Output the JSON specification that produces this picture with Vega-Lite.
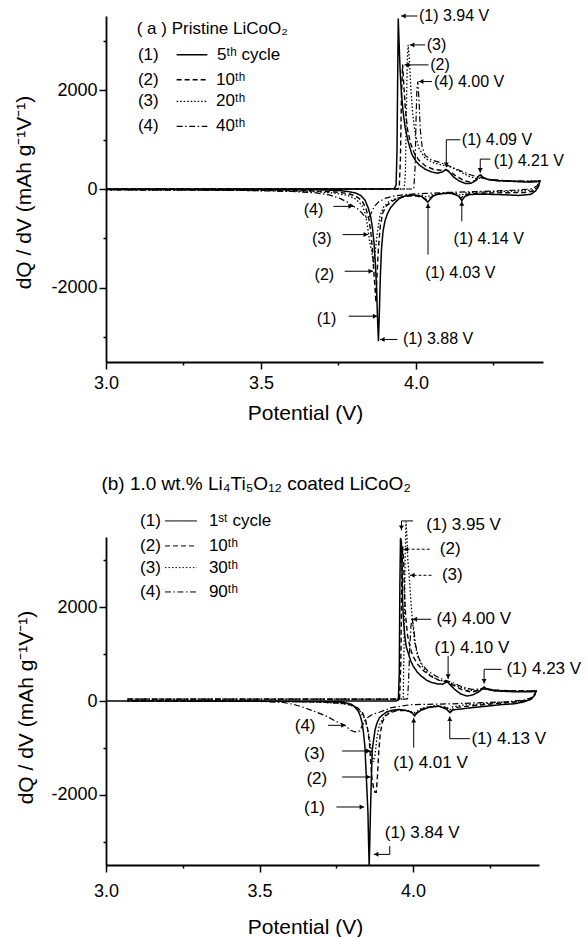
{
"$schema": "https://vega.github.io/schema/vega-lite/v6.json",
"background": "white",
"padding": {"left": 13, "top": 8, "right": 5, "bottom": 5},
"bounds": "flush",
"spacing": 175,
"config": {
  "view": {"stroke": null},
  "font": "Liberation Sans",
  "axis": {"domainColor": "black", "domainWidth": 1.8, "tickColor": "black", "tickWidth": 1.5, "labelColor": "black", "titleColor": "black", "labelFont": "Liberation Sans", "titleFont": "Liberation Sans", "labelFontSize": 18, "titleFontSize": 21, "titleFontWeight": "normal", "grid": false, "labelOverlap": false, "labelFlush": false}
},
"datasets": {
"a_curves": [
{"c":"1","i":1,"x":3.0,"y":0},{"c":"1","i":2,"x":3.5,"y":0},{"c":"1","i":3,"x":3.9,"y":0},{"c":"1","i":4,"x":3.93,"y":5},{"c":"1","i":5,"x":3.936,"y":80},{"c":"1","i":6,"x":3.939,"y":800},{"c":"1","i":7,"x":3.941,"y":2200},{"c":"1","i":8,"x":3.943,"y":3450},{"c":"1","i":9,"x":3.946,"y":2900},{"c":"1","i":10,"x":3.949,"y":2400},{"c":"1","i":11,"x":3.953,"y":1950},{"c":"1","i":12,"x":3.958,"y":1600},{"c":"1","i":13,"x":3.965,"y":1250},{"c":"1","i":14,"x":3.975,"y":960},{"c":"1","i":15,"x":3.987,"y":700},{"c":"1","i":16,"x":4.0,"y":560},{"c":"1","i":17,"x":4.012,"y":480},{"c":"1","i":18,"x":4.03,"y":400},{"c":"1","i":19,"x":4.05,"y":345},{"c":"1","i":20,"x":4.07,"y":320},{"c":"1","i":21,"x":4.085,"y":345},{"c":"1","i":22,"x":4.097,"y":395},{"c":"1","i":23,"x":4.108,"y":340},{"c":"1","i":24,"x":4.122,"y":240},{"c":"1","i":25,"x":4.14,"y":160},{"c":"1","i":26,"x":4.16,"y":110},{"c":"1","i":27,"x":4.178,"y":115},{"c":"1","i":28,"x":4.192,"y":170},{"c":"1","i":29,"x":4.202,"y":260},{"c":"1","i":30,"x":4.208,"y":290},{"c":"1","i":31,"x":4.216,"y":240},{"c":"1","i":32,"x":4.23,"y":195},{"c":"1","i":33,"x":4.26,"y":170},{"c":"1","i":34,"x":4.31,"y":155},{"c":"1","i":35,"x":4.36,"y":140},{"c":"1","i":36,"x":4.385,"y":145},{"c":"1","i":37,"x":4.4,"y":160},
{"c":"1","i":38,"x":4.396,"y":60},{"c":"1","i":39,"x":4.386,"y":-40},{"c":"1","i":40,"x":4.37,"y":-110},{"c":"1","i":41,"x":4.33,"y":-130},{"c":"1","i":42,"x":4.28,"y":-115},{"c":"1","i":43,"x":4.22,"y":-105},{"c":"1","i":44,"x":4.175,"y":-110},{"c":"1","i":45,"x":4.158,"y":-150},{"c":"1","i":46,"x":4.148,"y":-235},{"c":"1","i":47,"x":4.14,"y":-160},{"c":"1","i":48,"x":4.125,"y":-95},{"c":"1","i":49,"x":4.1,"y":-85},{"c":"1","i":50,"x":4.075,"y":-100},{"c":"1","i":51,"x":4.055,"y":-140},{"c":"1","i":52,"x":4.046,"y":-210},{"c":"1","i":53,"x":4.038,"y":-265},{"c":"1","i":54,"x":4.03,"y":-215},{"c":"1","i":55,"x":4.018,"y":-150},{"c":"1","i":56,"x":4.0,"y":-125},{"c":"1","i":57,"x":3.98,"y":-120},{"c":"1","i":58,"x":3.96,"y":-150},{"c":"1","i":59,"x":3.945,"y":-200},{"c":"1","i":60,"x":3.93,"y":-290},{"c":"1","i":61,"x":3.918,"y":-380},{"c":"1","i":62,"x":3.908,"y":-500},{"c":"1","i":63,"x":3.9,"y":-650},{"c":"1","i":64,"x":3.894,"y":-850},{"c":"1","i":65,"x":3.889,"y":-1200},{"c":"1","i":66,"x":3.885,"y":-1800},{"c":"1","i":67,"x":3.882,"y":-2500},{"c":"1","i":68,"x":3.879,"y":-3078},{"c":"1","i":69,"x":3.876,"y":-2600},{"c":"1","i":70,"x":3.873,"y":-2000},{"c":"1","i":71,"x":3.869,"y":-1500},{"c":"1","i":72,"x":3.865,"y":-1100},{"c":"1","i":73,"x":3.86,"y":-800},{"c":"1","i":74,"x":3.854,"y":-560},{"c":"1","i":75,"x":3.846,"y":-380},{"c":"1","i":76,"x":3.836,"y":-230},{"c":"1","i":77,"x":3.822,"y":-130},{"c":"1","i":78,"x":3.805,"y":-80},{"c":"1","i":79,"x":3.78,"y":-50},{"c":"1","i":80,"x":3.75,"y":-30},{"c":"1","i":81,"x":3.7,"y":-18},{"c":"1","i":82,"x":3.5,"y":-10},{"c":"1","i":83,"x":3.0,"y":-5},
{"c":"2","i":1,"x":3.0,"y":0},{"c":"2","i":2,"x":3.5,"y":0},{"c":"2","i":3,"x":3.94,"y":0},{"c":"2","i":4,"x":3.946,"y":20},{"c":"2","i":5,"x":3.95,"y":600},{"c":"2","i":6,"x":3.953,"y":1800},{"c":"2","i":7,"x":3.957,"y":2520},{"c":"2","i":8,"x":3.961,"y":2100},{"c":"2","i":9,"x":3.966,"y":1600},{"c":"2","i":10,"x":3.973,"y":1200},{"c":"2","i":11,"x":3.983,"y":920},{"c":"2","i":12,"x":3.995,"y":720},{"c":"2","i":13,"x":4.01,"y":580},{"c":"2","i":14,"x":4.03,"y":470},{"c":"2","i":15,"x":4.055,"y":400},{"c":"2","i":16,"x":4.08,"y":380},{"c":"2","i":17,"x":4.097,"y":390},{"c":"2","i":18,"x":4.11,"y":350},{"c":"2","i":19,"x":4.13,"y":260},{"c":"2","i":20,"x":4.155,"y":170},{"c":"2","i":21,"x":4.175,"y":140},{"c":"2","i":22,"x":4.195,"y":180},{"c":"2","i":23,"x":4.21,"y":240},{"c":"2","i":24,"x":4.225,"y":200},{"c":"2","i":25,"x":4.26,"y":170},{"c":"2","i":26,"x":4.32,"y":155},{"c":"2","i":27,"x":4.38,"y":150},{"c":"2","i":28,"x":4.4,"y":160},
{"c":"2","i":29,"x":4.394,"y":40},{"c":"2","i":30,"x":4.38,"y":-40},{"c":"2","i":31,"x":4.35,"y":-70},{"c":"2","i":32,"x":4.3,"y":-75},{"c":"2","i":33,"x":4.24,"y":-80},{"c":"2","i":34,"x":4.18,"y":-90},{"c":"2","i":35,"x":4.155,"y":-120},{"c":"2","i":36,"x":4.145,"y":-190},{"c":"2","i":37,"x":4.135,"y":-130},{"c":"2","i":38,"x":4.11,"y":-85},{"c":"2","i":39,"x":4.07,"y":-100},{"c":"2","i":40,"x":4.045,"y":-180},{"c":"2","i":41,"x":4.035,"y":-220},{"c":"2","i":42,"x":4.022,"y":-170},{"c":"2","i":43,"x":4.0,"y":-140},{"c":"2","i":44,"x":3.97,"y":-145},{"c":"2","i":45,"x":3.945,"y":-180},{"c":"2","i":46,"x":3.925,"y":-240},{"c":"2","i":47,"x":3.905,"y":-340},{"c":"2","i":48,"x":3.893,"y":-480},{"c":"2","i":49,"x":3.885,"y":-750},{"c":"2","i":50,"x":3.879,"y":-1200},{"c":"2","i":51,"x":3.874,"y":-1800},{"c":"2","i":52,"x":3.871,"y":-2300},{"c":"2","i":53,"x":3.868,"y":-2000},{"c":"2","i":54,"x":3.864,"y":-1660},{"c":"2","i":55,"x":3.86,"y":-1250},{"c":"2","i":56,"x":3.855,"y":-900},{"c":"2","i":57,"x":3.848,"y":-600},{"c":"2","i":58,"x":3.838,"y":-380},{"c":"2","i":59,"x":3.825,"y":-230},{"c":"2","i":60,"x":3.805,"y":-140},{"c":"2","i":61,"x":3.78,"y":-90},{"c":"2","i":62,"x":3.74,"y":-60},{"c":"2","i":63,"x":3.65,"y":-35},{"c":"2","i":64,"x":3.4,"y":-20},{"c":"2","i":65,"x":3.0,"y":-15},
{"c":"3","i":1,"x":3.0,"y":0},{"c":"3","i":2,"x":3.5,"y":0},{"c":"3","i":3,"x":3.962,"y":0},{"c":"3","i":4,"x":3.966,"y":300},{"c":"3","i":5,"x":3.969,"y":1500},{"c":"3","i":6,"x":3.972,"y":2600},{"c":"3","i":7,"x":3.975,"y":2915},{"c":"3","i":8,"x":3.979,"y":2600},{"c":"3","i":9,"x":3.984,"y":2000},{"c":"3","i":10,"x":3.99,"y":1500},{"c":"3","i":11,"x":3.998,"y":1100},{"c":"3","i":12,"x":4.01,"y":820},{"c":"3","i":13,"x":4.03,"y":620},{"c":"3","i":14,"x":4.06,"y":520},{"c":"3","i":15,"x":4.09,"y":480},{"c":"3","i":16,"x":4.11,"y":450},{"c":"3","i":17,"x":4.14,"y":360},{"c":"3","i":18,"x":4.17,"y":260},{"c":"3","i":19,"x":4.195,"y":210},{"c":"3","i":20,"x":4.215,"y":230},{"c":"3","i":21,"x":4.235,"y":190},{"c":"3","i":22,"x":4.28,"y":165},{"c":"3","i":23,"x":4.34,"y":155},{"c":"3","i":24,"x":4.4,"y":160},
{"c":"3","i":25,"x":4.392,"y":30},{"c":"3","i":26,"x":4.375,"y":-20},{"c":"3","i":27,"x":4.33,"y":-40},{"c":"3","i":28,"x":4.27,"y":-50},{"c":"3","i":29,"x":4.2,"y":-65},{"c":"3","i":30,"x":4.16,"y":-80},{"c":"3","i":31,"x":4.145,"y":-130},{"c":"3","i":32,"x":4.13,"y":-85},{"c":"3","i":33,"x":4.09,"y":-85},{"c":"3","i":34,"x":4.05,"y":-120},{"c":"3","i":35,"x":4.035,"y":-160},{"c":"3","i":36,"x":4.02,"y":-130},{"c":"3","i":37,"x":3.99,"y":-130},{"c":"3","i":38,"x":3.96,"y":-150},{"c":"3","i":39,"x":3.935,"y":-190},{"c":"3","i":40,"x":3.912,"y":-260},{"c":"3","i":41,"x":3.895,"y":-370},{"c":"3","i":42,"x":3.884,"y":-550},{"c":"3","i":43,"x":3.876,"y":-850},{"c":"3","i":44,"x":3.869,"y":-1250},{"c":"3","i":45,"x":3.863,"y":-1500},{"c":"3","i":46,"x":3.857,"y":-1250},{"c":"3","i":47,"x":3.851,"y":-1080},{"c":"3","i":48,"x":3.847,"y":-900},{"c":"3","i":49,"x":3.842,"y":-680},{"c":"3","i":50,"x":3.835,"y":-470},{"c":"3","i":51,"x":3.825,"y":-320},{"c":"3","i":52,"x":3.805,"y":-200},{"c":"3","i":53,"x":3.78,"y":-130},{"c":"3","i":54,"x":3.74,"y":-85},{"c":"3","i":55,"x":3.68,"y":-55},{"c":"3","i":56,"x":3.55,"y":-35},{"c":"3","i":57,"x":3.3,"y":-22},{"c":"3","i":58,"x":3.0,"y":-18},
{"c":"4","i":1,"x":3.0,"y":0},{"c":"4","i":2,"x":3.5,"y":0},{"c":"4","i":3,"x":3.993,"y":0},{"c":"4","i":4,"x":3.997,"y":400},{"c":"4","i":5,"x":4.0,"y":1300},{"c":"4","i":6,"x":4.003,"y":2000},{"c":"4","i":7,"x":4.006,"y":2174},{"c":"4","i":8,"x":4.01,"y":1800},{"c":"4","i":9,"x":4.014,"y":1200},{"c":"4","i":10,"x":4.02,"y":850},{"c":"4","i":11,"x":4.03,"y":680},{"c":"4","i":12,"x":4.05,"y":590},{"c":"4","i":13,"x":4.08,"y":530},{"c":"4","i":14,"x":4.11,"y":460},{"c":"4","i":15,"x":4.14,"y":380},{"c":"4","i":16,"x":4.17,"y":300},{"c":"4","i":17,"x":4.2,"y":240},{"c":"4","i":18,"x":4.24,"y":195},{"c":"4","i":19,"x":4.29,"y":170},{"c":"4","i":20,"x":4.35,"y":160},{"c":"4","i":21,"x":4.4,"y":160},
{"c":"4","i":22,"x":4.39,"y":60},{"c":"4","i":23,"x":4.37,"y":0},{"c":"4","i":24,"x":4.32,"y":-25},{"c":"4","i":25,"x":4.25,"y":-40},{"c":"4","i":26,"x":4.18,"y":-55},{"c":"4","i":27,"x":4.1,"y":-70},{"c":"4","i":28,"x":4.03,"y":-90},{"c":"4","i":29,"x":3.97,"y":-110},{"c":"4","i":30,"x":3.93,"y":-140},{"c":"4","i":31,"x":3.9,"y":-190},{"c":"4","i":32,"x":3.88,"y":-260},{"c":"4","i":33,"x":3.866,"y":-350},{"c":"4","i":34,"x":3.857,"y":-470},{"c":"4","i":35,"x":3.85,"y":-560},{"c":"4","i":36,"x":3.843,"y":-590},{"c":"4","i":37,"x":3.835,"y":-560},{"c":"4","i":38,"x":3.825,"y":-480},{"c":"4","i":39,"x":3.812,"y":-400},{"c":"4","i":40,"x":3.797,"y":-345},{"c":"4","i":41,"x":3.78,"y":-270},{"c":"4","i":42,"x":3.755,"y":-190},{"c":"4","i":43,"x":3.72,"y":-120},{"c":"4","i":44,"x":3.68,"y":-80},{"c":"4","i":45,"x":3.6,"y":-50},{"c":"4","i":46,"x":3.45,"y":-30},{"c":"4","i":47,"x":3.2,"y":-22},{"c":"4","i":48,"x":3.0,"y":-20}
],
"b_curves": [
{"c":"1","i":1,"x":3.0,"y":0},{"c":"1","i":2,"x":3.5,"y":0},{"c":"1","i":3,"x":3.945,"y":0},{"c":"1","i":4,"x":3.952,"y":20},{"c":"1","i":5,"x":3.955,"y":600},{"c":"1","i":6,"x":3.957,"y":2500},{"c":"1","i":7,"x":3.959,"y":3480},{"c":"1","i":8,"x":3.962,"y":3400},{"c":"1","i":9,"x":3.964,"y":2800},{"c":"1","i":10,"x":3.966,"y":2100},{"c":"1","i":11,"x":3.969,"y":1700},{"c":"1","i":12,"x":3.973,"y":1390},{"c":"1","i":13,"x":3.978,"y":1150},{"c":"1","i":14,"x":3.984,"y":1030},{"c":"1","i":15,"x":3.992,"y":860},{"c":"1","i":16,"x":4.0,"y":750},{"c":"1","i":17,"x":4.013,"y":620},{"c":"1","i":18,"x":4.027,"y":530},{"c":"1","i":19,"x":4.045,"y":440},{"c":"1","i":20,"x":4.06,"y":395},{"c":"1","i":21,"x":4.08,"y":365},{"c":"1","i":22,"x":4.097,"y":360},{"c":"1","i":23,"x":4.111,"y":410},{"c":"1","i":24,"x":4.12,"y":350},{"c":"1","i":25,"x":4.135,"y":250},{"c":"1","i":26,"x":4.155,"y":150},{"c":"1","i":27,"x":4.175,"y":105},{"c":"1","i":28,"x":4.195,"y":130},{"c":"1","i":29,"x":4.215,"y":200},{"c":"1","i":30,"x":4.231,"y":290},{"c":"1","i":31,"x":4.242,"y":250},{"c":"1","i":32,"x":4.266,"y":215},{"c":"1","i":33,"x":4.32,"y":200},{"c":"1","i":34,"x":4.385,"y":195},{"c":"1","i":35,"x":4.4,"y":210},
{"c":"1","i":36,"x":4.396,"y":120},{"c":"1","i":37,"x":4.385,"y":40},{"c":"1","i":38,"x":4.36,"y":-20},{"c":"1","i":39,"x":4.33,"y":-60},{"c":"1","i":40,"x":4.29,"y":-75},{"c":"1","i":41,"x":4.24,"y":-110},{"c":"1","i":42,"x":4.18,"y":-150},{"c":"1","i":43,"x":4.15,"y":-175},{"c":"1","i":44,"x":4.13,"y":-190},{"c":"1","i":45,"x":4.12,"y":-250},{"c":"1","i":46,"x":4.11,"y":-180},{"c":"1","i":47,"x":4.085,"y":-110},{"c":"1","i":48,"x":4.05,"y":-140},{"c":"1","i":49,"x":4.025,"y":-200},{"c":"1","i":50,"x":4.012,"y":-260},{"c":"1","i":51,"x":4.005,"y":-320},{"c":"1","i":52,"x":3.995,"y":-240},{"c":"1","i":53,"x":3.975,"y":-200},{"c":"1","i":54,"x":3.955,"y":-180},{"c":"1","i":55,"x":3.93,"y":-200},{"c":"1","i":56,"x":3.915,"y":-230},{"c":"1","i":57,"x":3.9,"y":-300},{"c":"1","i":58,"x":3.89,"y":-360},{"c":"1","i":59,"x":3.882,"y":-480},{"c":"1","i":60,"x":3.876,"y":-620},{"c":"1","i":61,"x":3.871,"y":-850},{"c":"1","i":62,"x":3.867,"y":-1050},{"c":"1","i":63,"x":3.864,"y":-1670},{"c":"1","i":64,"x":3.861,"y":-2400},{"c":"1","i":65,"x":3.859,"y":-3000},{"c":"1","i":66,"x":3.857,"y":-3500},{"c":"1","i":67,"x":3.855,"y":-3000},{"c":"1","i":68,"x":3.853,"y":-2383},{"c":"1","i":69,"x":3.848,"y":-1672},{"c":"1","i":70,"x":3.843,"y":-961},{"c":"1","i":71,"x":3.838,"y":-650},{"c":"1","i":72,"x":3.834,"y":-462},{"c":"1","i":73,"x":3.828,"y":-320},{"c":"1","i":74,"x":3.821,"y":-213},{"c":"1","i":75,"x":3.81,"y":-120},{"c":"1","i":76,"x":3.799,"y":-70},{"c":"1","i":77,"x":3.78,"y":-40},{"c":"1","i":78,"x":3.756,"y":-21},{"c":"1","i":79,"x":3.7,"y":-10},{"c":"1","i":80,"x":3.5,"y":-5},{"c":"1","i":81,"x":3.0,"y":0},
{"c":"2","i":1,"x":3.07,"y":40},{"c":"2","i":2,"x":3.5,"y":40},{"c":"2","i":3,"x":3.95,"y":40},{"c":"2","i":4,"x":3.956,"y":50},{"c":"2","i":5,"x":3.96,"y":800},{"c":"2","i":6,"x":3.963,"y":2500},{"c":"2","i":7,"x":3.966,"y":3300},{"c":"2","i":8,"x":3.969,"y":3000},{"c":"2","i":9,"x":3.972,"y":2300},{"c":"2","i":10,"x":3.976,"y":1800},{"c":"2","i":11,"x":3.982,"y":1400},{"c":"2","i":12,"x":3.99,"y":1150},{"c":"2","i":13,"x":4.0,"y":950},{"c":"2","i":14,"x":4.015,"y":780},{"c":"2","i":15,"x":4.035,"y":640},{"c":"2","i":16,"x":4.06,"y":520},{"c":"2","i":17,"x":4.085,"y":440},{"c":"2","i":18,"x":4.11,"y":410},{"c":"2","i":19,"x":4.13,"y":340},{"c":"2","i":20,"x":4.16,"y":240},{"c":"2","i":21,"x":4.19,"y":190},{"c":"2","i":22,"x":4.215,"y":230},{"c":"2","i":23,"x":4.232,"y":300},{"c":"2","i":24,"x":4.245,"y":260},{"c":"2","i":25,"x":4.27,"y":230},{"c":"2","i":26,"x":4.33,"y":215},{"c":"2","i":27,"x":4.4,"y":210},
{"c":"2","i":28,"x":4.395,"y":130},{"c":"2","i":29,"x":4.38,"y":40},{"c":"2","i":30,"x":4.35,"y":-10},{"c":"2","i":31,"x":4.3,"y":-40},{"c":"2","i":32,"x":4.24,"y":-70},{"c":"2","i":33,"x":4.18,"y":-110},{"c":"2","i":34,"x":4.135,"y":-140},{"c":"2","i":35,"x":4.122,"y":-230},{"c":"2","i":36,"x":4.11,"y":-150},{"c":"2","i":37,"x":4.08,"y":-110},{"c":"2","i":38,"x":4.05,"y":-130},{"c":"2","i":39,"x":4.025,"y":-180},{"c":"2","i":40,"x":4.01,"y":-260},{"c":"2","i":41,"x":4.003,"y":-300},{"c":"2","i":42,"x":3.993,"y":-230},{"c":"2","i":43,"x":3.97,"y":-200},{"c":"2","i":44,"x":3.945,"y":-210},{"c":"2","i":45,"x":3.925,"y":-250},{"c":"2","i":46,"x":3.91,"y":-320},{"c":"2","i":47,"x":3.9,"y":-450},{"c":"2","i":48,"x":3.893,"y":-700},{"c":"2","i":49,"x":3.888,"y":-1100},{"c":"2","i":50,"x":3.884,"y":-1600},{"c":"2","i":51,"x":3.88,"y":-1950},{"c":"2","i":52,"x":3.876,"y":-1950},{"c":"2","i":53,"x":3.871,"y":-1850},{"c":"2","i":54,"x":3.866,"y":-1650},{"c":"2","i":55,"x":3.862,"y":-1300},{"c":"2","i":56,"x":3.858,"y":-900},{"c":"2","i":57,"x":3.852,"y":-600},{"c":"2","i":58,"x":3.845,"y":-400},{"c":"2","i":59,"x":3.835,"y":-250},{"c":"2","i":60,"x":3.82,"y":-150},{"c":"2","i":61,"x":3.8,"y":-90},{"c":"2","i":62,"x":3.77,"y":-50},{"c":"2","i":63,"x":3.7,"y":-20},{"c":"2","i":64,"x":3.5,"y":0},{"c":"2","i":65,"x":3.07,"y":0},
{"c":"3","i":1,"x":3.07,"y":40},{"c":"3","i":2,"x":3.5,"y":40},{"c":"3","i":3,"x":3.96,"y":40},{"c":"3","i":4,"x":3.968,"y":60},{"c":"3","i":5,"x":3.971,"y":1500},{"c":"3","i":6,"x":3.974,"y":3000},{"c":"3","i":7,"x":3.977,"y":3830},{"c":"3","i":8,"x":3.98,"y":3500},{"c":"3","i":9,"x":3.983,"y":3000},{"c":"3","i":10,"x":3.987,"y":2700},{"c":"3","i":11,"x":3.992,"y":2200},{"c":"3","i":12,"x":3.998,"y":1700},{"c":"3","i":13,"x":4.005,"y":1250},{"c":"3","i":14,"x":4.015,"y":950},{"c":"3","i":15,"x":4.03,"y":740},{"c":"3","i":16,"x":4.05,"y":580},{"c":"3","i":17,"x":4.075,"y":470},{"c":"3","i":18,"x":4.1,"y":420},{"c":"3","i":19,"x":4.12,"y":390},{"c":"3","i":20,"x":4.15,"y":300},{"c":"3","i":21,"x":4.18,"y":230},{"c":"3","i":22,"x":4.21,"y":220},{"c":"3","i":23,"x":4.232,"y":290},{"c":"3","i":24,"x":4.25,"y":240},{"c":"3","i":25,"x":4.3,"y":215},{"c":"3","i":26,"x":4.4,"y":210},
{"c":"3","i":27,"x":4.393,"y":110},{"c":"3","i":28,"x":4.378,"y":30},{"c":"3","i":29,"x":4.34,"y":-10},{"c":"3","i":30,"x":4.28,"y":-30},{"c":"3","i":31,"x":4.22,"y":-60},{"c":"3","i":32,"x":4.16,"y":-90},{"c":"3","i":33,"x":4.13,"y":-120},{"c":"3","i":34,"x":4.12,"y":-190},{"c":"3","i":35,"x":4.11,"y":-130},{"c":"3","i":36,"x":4.07,"y":-100},{"c":"3","i":37,"x":4.03,"y":-150},{"c":"3","i":38,"x":4.01,"y":-230},{"c":"3","i":39,"x":4.0,"y":-260},{"c":"3","i":40,"x":3.99,"y":-210},{"c":"3","i":41,"x":3.96,"y":-190},{"c":"3","i":42,"x":3.935,"y":-210},{"c":"3","i":43,"x":3.915,"y":-270},{"c":"3","i":44,"x":3.9,"y":-380},{"c":"3","i":45,"x":3.89,"y":-520},{"c":"3","i":46,"x":3.882,"y":-800},{"c":"3","i":47,"x":3.876,"y":-1150},{"c":"3","i":48,"x":3.871,"y":-1300},{"c":"3","i":49,"x":3.867,"y":-1200},{"c":"3","i":50,"x":3.864,"y":-1067},{"c":"3","i":51,"x":3.858,"y":-800},{"c":"3","i":52,"x":3.85,"y":-550},{"c":"3","i":53,"x":3.84,"y":-350},{"c":"3","i":54,"x":3.825,"y":-200},{"c":"3","i":55,"x":3.805,"y":-110},{"c":"3","i":56,"x":3.78,"y":-60},{"c":"3","i":57,"x":3.7,"y":-25},{"c":"3","i":58,"x":3.5,"y":-5},{"c":"3","i":59,"x":3.07,"y":0},
{"c":"4","i":1,"x":3.07,"y":40},{"c":"4","i":2,"x":3.5,"y":40},{"c":"4","i":3,"x":3.975,"y":40},{"c":"4","i":4,"x":3.982,"y":50},{"c":"4","i":5,"x":3.985,"y":400},{"c":"4","i":6,"x":3.989,"y":1100},{"c":"4","i":7,"x":3.993,"y":1600},{"c":"4","i":8,"x":3.997,"y":1780},{"c":"4","i":9,"x":4.002,"y":1550},{"c":"4","i":10,"x":4.008,"y":1200},{"c":"4","i":11,"x":4.018,"y":930},{"c":"4","i":12,"x":4.03,"y":770},{"c":"4","i":13,"x":4.05,"y":630},{"c":"4","i":14,"x":4.075,"y":530},{"c":"4","i":15,"x":4.1,"y":450},{"c":"4","i":16,"x":4.13,"y":390},{"c":"4","i":17,"x":4.16,"y":300},{"c":"4","i":18,"x":4.19,"y":250},{"c":"4","i":19,"x":4.23,"y":255},{"c":"4","i":20,"x":4.26,"y":235},{"c":"4","i":21,"x":4.32,"y":215},{"c":"4","i":22,"x":4.4,"y":215},
{"c":"4","i":23,"x":4.39,"y":80},{"c":"4","i":24,"x":4.36,"y":20},{"c":"4","i":25,"x":4.3,"y":-20},{"c":"4","i":26,"x":4.2,"y":-40},{"c":"4","i":27,"x":4.13,"y":-60},{"c":"4","i":28,"x":4.05,"y":-70},{"c":"4","i":29,"x":3.99,"y":-80},{"c":"4","i":30,"x":3.93,"y":-140},{"c":"4","i":31,"x":3.89,"y":-240},{"c":"4","i":32,"x":3.868,"y":-285},{"c":"4","i":33,"x":3.85,"y":-360},{"c":"4","i":34,"x":3.84,"y":-450},{"c":"4","i":35,"x":3.832,"y":-560},{"c":"4","i":36,"x":3.826,"y":-640},{"c":"4","i":37,"x":3.81,"y":-660},{"c":"4","i":38,"x":3.795,"y":-620},{"c":"4","i":39,"x":3.783,"y":-540},{"c":"4","i":40,"x":3.765,"y":-480},{"c":"4","i":41,"x":3.747,"y":-430},{"c":"4","i":42,"x":3.72,"y":-330},{"c":"4","i":43,"x":3.686,"y":-240},{"c":"4","i":44,"x":3.65,"y":-150},{"c":"4","i":45,"x":3.61,"y":-70},{"c":"4","i":46,"x":3.576,"y":-30},{"c":"4","i":47,"x":3.5,"y":-10},{"c":"4","i":48,"x":3.3,"y":0},{"c":"4","i":49,"x":3.07,"y":0}
],
"a_leg": [
{"c":"1","x":3.228,"x2":3.327,"y":2714},{"c":"2","x":3.228,"x2":3.327,"y":2209},{"c":"3","x":3.228,"x2":3.327,"y":1771},{"c":"4","x":3.228,"x2":3.327,"y":1266}
],
"b_leg": [
{"c":"1","x":3.192,"x2":3.296,"y":3843},{"c":"2","x":3.192,"x2":3.296,"y":3309},{"c":"3","x":3.192,"x2":3.296,"y":2847},{"c":"4","x":3.192,"x2":3.296,"y":2327}
],
"a_seg": [
{"x":4.005,"y":3500,"x2":3.952,"y2":3500},{"x":4.03,"y":2915,"x2":3.98,"y2":2915},{"x":4.041,"y":2511,"x2":3.963,"y2":2511},{"x":4.052,"y":2174,"x2":4.009,"y2":2174},
{"x":4.143,"y":996,"x2":4.098,"y2":996},{"x":4.098,"y":996,"x2":4.098,"y2":440},{"x":4.24,"y":605,"x2":4.2075,"y2":605},{"x":4.2075,"y":605,"x2":4.2075,"y2":330},
{"x":3.734,"y":-351,"x2":3.797,"y2":-351},{"x":3.7635,"y":-923,"x2":3.846,"y2":-923},{"x":3.77,"y":-1664,"x2":3.862,"y2":-1664},{"x":3.783,"y":-2573,"x2":3.876,"y2":-2573},
{"x":3.94,"y":-3044,"x2":3.884,"y2":-3044},{"x":4.039,"y":-1327,"x2":4.039,"y2":-290},{"x":4.148,"y":-654,"x2":4.148,"y2":-245}
],
"a_head": [
{"x":3.96,"y":3500,"d":"left"},{"x":3.988,"y":2915,"d":"left"},{"x":3.971,"y":2511,"d":"left"},{"x":4.017,"y":2174,"d":"left"},
{"x":4.098,"y":490,"d":"down"},{"x":4.2075,"y":380,"d":"down"},
{"x":3.789,"y":-351,"d":"right"},{"x":3.838,"y":-923,"d":"right"},{"x":3.854,"y":-1664,"d":"right"},{"x":3.868,"y":-2573,"d":"right"},
{"x":3.892,"y":-3044,"d":"left"},{"x":4.039,"y":-340,"d":"up"},{"x":4.148,"y":-295,"d":"up"}
],
"a_text": [
{"x":4.01,"y":3500,"t":"(1) 3.94 V"},{"x":4.035,"y":2915,"t":"(3)"},{"x":4.046,"y":2511,"t":"(2)"},{"x":4.058,"y":2174,"t":"(4) 4.00 V"},
{"x":4.148,"y":996,"t":"(1) 4.09 V"},{"x":4.251,"y":560,"t":"(1) 4.21 V"},
{"x":3.638,"y":-430,"t":"(4)"},{"x":3.6645,"y":-1010,"t":"(3)"},{"x":3.673,"y":-1731,"t":"(2)"},{"x":3.68,"y":-2640,"t":"(1)"},
{"x":3.958,"y":-3044,"t":"(1) 3.88 V"},{"x":4.03,"y":-1697,"t":"(1) 4.03 V"},{"x":4.1215,"y":-1011,"t":"(1) 4.14 V"}
],
"a_legtext": [
{"x":3.099,"y":3232,"t":"( a ) Pristine LiCoO₂"},
{"x":3.103,"y":2714,"t":"(1)"},{"x":3.358,"y":2714,"t":"5ᵗʰ cycle"},
{"x":3.103,"y":2209,"t":"(2)"},{"x":3.355,"y":2209,"t":"10ᵗʰ"},
{"x":3.103,"y":1771,"t":"(3)"},{"x":3.355,"y":1771,"t":"20ᵗʰ"},
{"x":3.103,"y":1266,"t":"(4)"},{"x":3.355,"y":1266,"t":"40ᵗʰ"}
],
"b_seg": [
{"x":4.0,"y":3843,"x2":3.962,"y2":3843},{"x":3.962,"y":3843,"x2":3.962,"y2":3640},
{"x":4.059,"y":1744,"x2":3.998,"y2":1744},
{"x":4.114,"y":961,"x2":4.114,"y2":470},
{"x":4.288,"y":676,"x2":4.2313,"y2":676},{"x":4.2313,"y":676,"x2":4.2313,"y2":370},
{"x":3.723,"y":-519,"x2":3.781,"y2":-519},{"x":3.769,"y":-1067,"x2":3.862,"y2":-1067},{"x":3.769,"y":-1622,"x2":3.862,"y2":-1622},{"x":3.7503,"y":-2262,"x2":3.841,"y2":-2262},
{"x":3.924,"y":-3095,"x2":3.924,"y2":-3273},{"x":3.924,"y":-3273,"x2":3.872,"y2":-3273},
{"x":4.002,"y":-996,"x2":4.002,"y2":-360},
{"x":4.185,"y":-804,"x2":4.1194,"y2":-804},{"x":4.1194,"y":-804,"x2":4.1194,"y2":-330}
],
"b_dseg": [
{"x":4.054,"y":3239,"x2":3.969,"y2":3239},{"x":4.06,"y":2683,"x2":3.99,"y2":2683}
],
"b_head": [
{"x":3.962,"y":3700,"d":"down"},{"x":3.977,"y":3239,"d":"left"},{"x":3.998,"y":2683,"d":"left"},{"x":4.006,"y":1744,"d":"left"},
{"x":4.114,"y":523,"d":"down"},{"x":4.2313,"y":423,"d":"down"},
{"x":3.773,"y":-519,"d":"right"},{"x":3.854,"y":-1067,"d":"right"},{"x":3.854,"y":-1622,"d":"right"},{"x":3.833,"y":-2262,"d":"right"},
{"x":3.88,"y":-3273,"d":"left"},{"x":4.002,"y":-413,"d":"up"},{"x":4.1194,"y":-383,"d":"up"}
],
"b_text": [
{"x":4.043,"y":3760,"t":"(1) 3.95 V"},{"x":4.087,"y":3239,"t":"(2)"},{"x":4.094,"y":2683,"t":"(3)"},{"x":4.076,"y":1744,"t":"(4) 4.00 V"},
{"x":4.07,"y":1139,"t":"(1) 4.10 V"},{"x":4.304,"y":676,"t":"(1) 4.23 V"},
{"x":3.6146,"y":-533,"t":"(4)"},{"x":3.645,"y":-1138,"t":"(3)"},{"x":3.6526,"y":-1672,"t":"(2)"},{"x":3.645,"y":-2277,"t":"(1)"},
{"x":3.908,"y":-2810,"t":"(1) 3.84 V"},{"x":3.935,"y":-1316,"t":"(1) 4.01 V"},{"x":4.19,"y":-818,"t":"(1) 4.13 V"},
{"x":3.111,"y":3843,"t":"(1)"},{"x":3.335,"y":3843,"t":"1ˢᵗ cycle"},
{"x":3.111,"y":3309,"t":"(2)"},{"x":3.335,"y":3309,"t":"10ᵗʰ"},
{"x":3.111,"y":2847,"t":"(3)"},{"x":3.335,"y":2847,"t":"30ᵗʰ"},
{"x":3.111,"y":2327,"t":"(4)"},{"x":3.335,"y":2327,"t":"90ᵗʰ"}
],
"b_title": [
{"x":2.985,"y":4627,"t":"(b) 1.0 wt.% Li₄Ti₅O₁₂ coated LiCoO₂"}
]
},
"vconcat": [
{
"width": 437, "height": 346,
"encoding": {
  "x": {"field": "x", "type": "quantitative", "scale": {"domain": [3.0, 4.41], "nice": false, "zero": false},
    "axis": {"values": [3, 3.25, 3.5, 3.75, 4, 4.25], "labelExpr": "datum.value * 4 % 2 === 0 ? format(datum.value, '.1f') : ''", "tickSize": {"condition": {"test": "datum.value * 4 % 2 === 0", "value": 7}, "value": 3}, "labelPadding": 5, "title": "Potential (V)", "titleX": 199, "titleY": 51, "titleBaseline": "middle", "titleAlign": "center"}},
  "y": {"field": "y", "type": "quantitative", "scale": {"domain": [-3500, 3500], "nice": false, "zero": false},
    "axis": {"values": [-3000, -2000, -1000, 0, 1000, 2000, 3000], "labelExpr": "datum.value % 2000 === 0 ? '' + datum.value : ''", "tickSize": {"condition": {"test": "datum.value % 2000 === 0", "value": 7}, "value": 3}, "labelPadding": 2, "title": "dQ / dV (mAh g⁻¹V⁻¹)", "titleX": -82, "titleY": 176, "titleBaseline": "middle", "titleAlign": "center"}}
},
"layer": [
  {"data": {"name": "a_curves"}, "mark": {"type": "line", "color": "black", "clip": false, "strokeCap": "butt"},
   "encoding": {"detail": {"field": "c"}, "order": {"field": "i", "type": "quantitative"},
     "strokeDash": {"field": "c", "type": "nominal", "scale": {"domain": ["1","2","3","4"], "range": [[1,0],[5,3],[1.5,2],[6,2.5,1.5,2.5]]}, "legend": null},
     "strokeWidth": {"field": "c", "type": "nominal", "scale": {"domain": ["1","2","3","4"], "range": [1.5,1.2,1.3,1.2]}, "legend": null}}},
  {"data": {"name": "a_leg"}, "mark": {"type": "rule", "color": "black", "strokeCap": "butt"},
   "encoding": {"x2": {"field": "x2"},
     "strokeDash": {"field": "c", "type": "nominal", "legend": null},
     "strokeWidth": {"field": "c", "type": "nominal", "legend": null}}},
  {"data": {"name": "a_seg"}, "mark": {"type": "rule", "color": "black", "strokeWidth": 1},
   "encoding": {"x2": {"field": "x2"}, "y2": {"field": "y2"}}},
  {"data": {"name": "a_head"}, "transform": [{"filter": "datum.d === 'left'"}], "mark": {"type": "point", "shape": "triangle-left", "filled": true, "color": "black", "opacity": 1, "size": 25}},
  {"data": {"name": "a_head"}, "transform": [{"filter": "datum.d === 'right'"}], "mark": {"type": "point", "shape": "triangle-right", "filled": true, "color": "black", "opacity": 1, "size": 25}},
  {"data": {"name": "a_head"}, "transform": [{"filter": "datum.d === 'up'"}], "mark": {"type": "point", "shape": "triangle-up", "filled": true, "color": "black", "opacity": 1, "size": 25}},
  {"data": {"name": "a_head"}, "transform": [{"filter": "datum.d === 'down'"}], "mark": {"type": "point", "shape": "triangle-down", "filled": true, "color": "black", "opacity": 1, "size": 25}},
  {"data": {"name": "a_text"}, "mark": {"type": "text", "align": "left", "baseline": "middle", "fontSize": 16, "font": "Liberation Sans", "color": "black"},
   "encoding": {"text": {"field": "t"}}},
  {"data": {"name": "a_legtext"}, "mark": {"type": "text", "align": "left", "baseline": "middle", "fontSize": 17, "font": "Liberation Sans", "color": "black"},
   "encoding": {"text": {"field": "t"}}}
]
},
{
"width": 433, "height": 328,
"encoding": {
  "x": {"field": "x", "type": "quantitative", "scale": {"domain": [3.0, 4.41], "nice": false, "zero": false},
    "axis": {"values": [3, 3.25, 3.5, 3.75, 4, 4.25], "labelExpr": "datum.value * 4 % 2 === 0 ? format(datum.value, '.1f') : ''", "tickSize": {"condition": {"test": "datum.value * 4 % 2 === 0", "value": 7}, "value": 3}, "labelPadding": 10, "title": "Potential (V)", "titleX": 199, "titleY": 62, "titleBaseline": "middle", "titleAlign": "center"}},
  "y": {"field": "y", "type": "quantitative", "scale": {"domain": [-3500, 3500], "nice": false, "zero": false},
    "axis": {"values": [-3000, -2000, -1000, 0, 1000, 2000, 3000], "labelExpr": "datum.value % 2000 === 0 ? '' + datum.value : ''", "tickSize": {"condition": {"test": "datum.value % 2000 === 0", "value": 7}, "value": 3}, "labelPadding": 2, "title": "dQ / dV (mAh g⁻¹V⁻¹)", "titleX": -80, "titleY": 170, "titleBaseline": "middle", "titleAlign": "center"}}
},
"layer": [
  {"data": {"name": "b_curves"}, "mark": {"type": "line", "color": "black", "clip": false, "strokeCap": "butt"},
   "encoding": {"detail": {"field": "c"}, "order": {"field": "i", "type": "quantitative"},
     "strokeDash": {"field": "c", "type": "nominal", "scale": {"domain": ["1","2","3","4"], "range": [[1,0],[5,3],[1.5,2],[6,2.5,1.5,2.5]]}, "legend": null},
     "strokeWidth": {"field": "c", "type": "nominal", "scale": {"domain": ["1","2","3","4"], "range": [1.5,1.3,1.3,1.2]}, "legend": null}}},
  {"data": {"name": "b_leg"}, "mark": {"type": "rule", "color": "black", "strokeCap": "butt"},
   "encoding": {"x2": {"field": "x2"},
     "strokeDash": {"field": "c", "type": "nominal", "legend": null}}},
  {"data": {"name": "b_seg"}, "mark": {"type": "rule", "color": "black", "strokeWidth": 1},
   "encoding": {"x2": {"field": "x2"}, "y2": {"field": "y2"}}},
  {"data": {"name": "b_dseg"}, "mark": {"type": "rule", "color": "black", "strokeWidth": 1, "strokeDash": [3, 2]},
   "encoding": {"x2": {"field": "x2"}, "y2": {"field": "y2"}}},
  {"data": {"name": "b_head"}, "transform": [{"filter": "datum.d === 'left'"}], "mark": {"type": "point", "shape": "triangle-left", "filled": true, "color": "black", "opacity": 1, "size": 25}},
  {"data": {"name": "b_head"}, "transform": [{"filter": "datum.d === 'right'"}], "mark": {"type": "point", "shape": "triangle-right", "filled": true, "color": "black", "opacity": 1, "size": 25}},
  {"data": {"name": "b_head"}, "transform": [{"filter": "datum.d === 'up'"}], "mark": {"type": "point", "shape": "triangle-up", "filled": true, "color": "black", "opacity": 1, "size": 25}},
  {"data": {"name": "b_head"}, "transform": [{"filter": "datum.d === 'down'"}], "mark": {"type": "point", "shape": "triangle-down", "filled": true, "color": "black", "opacity": 1, "size": 25}},
  {"data": {"name": "b_text"}, "mark": {"type": "text", "align": "left", "baseline": "middle", "fontSize": 17, "font": "Liberation Sans", "color": "black"},
   "encoding": {"text": {"field": "t"}}},
  {"data": {"name": "b_title"}, "mark": {"type": "text", "align": "left", "baseline": "middle", "fontSize": 19, "font": "Liberation Sans", "color": "black"},
   "encoding": {"text": {"field": "t"}}}
]
}
]
}
